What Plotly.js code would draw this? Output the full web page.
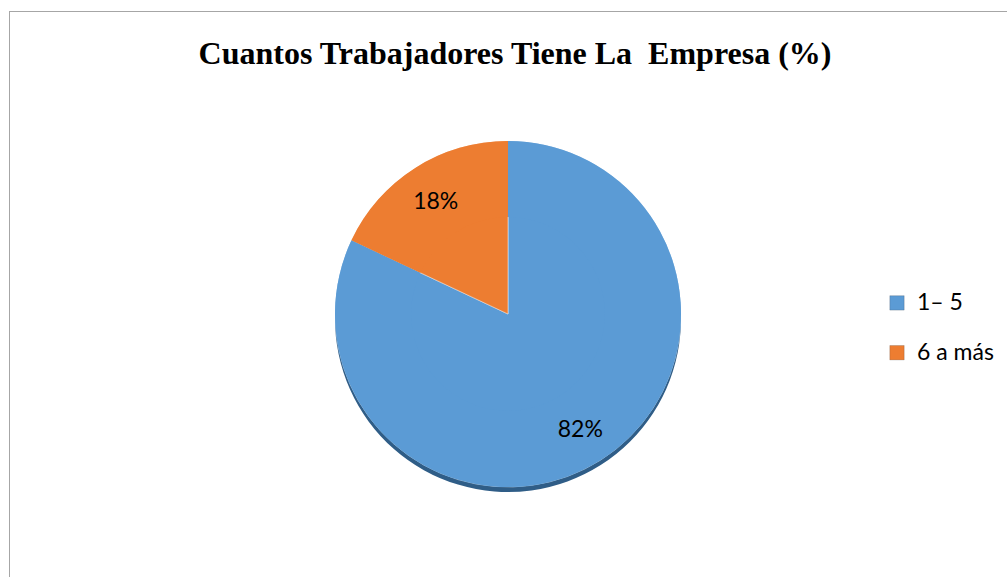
<!DOCTYPE html>
<html>
<head>
<meta charset="utf-8">
<script src="https://cdn.plot.ly/plotly-3.0.1.min.js"></script>
<style>
  html, body { margin: 0; padding: 0; background: #fff; overflow: hidden; }
  #wrap { position: relative; width: 1007px; height: 577px; }
  #frame { position: absolute; left: 9px; top: 11px; width: 1100px; height: 700px; border: 1px solid #a6a6a6; box-sizing: border-box; pointer-events: none; z-index: 2; }
  #chart { position: absolute; left: 0; top: 0; width: 1007px; height: 577px; }
  #chart .legend .legendtext { transform: translateY(-7px); }
  #chart .legend .legendpoints path { transform: translate(20px, 0px) scale(1.2); stroke: rgba(40,40,40,0.45) !important; stroke-width: 0.8px !important; }
</style>
</head>
<body>
<div id="wrap">
  <div id="chart"></div>
  <div id="frame"></div>
</div>
<script>
const chartTitle = "Cuantos Trabajadores Tiene La  Empresa (%)";
const categories = ["1– 5", "6 a más"];
const values = [82, 18];
const colors = ["#5B9BD5", "#ED7D31"];
const shadowColors = ["#2F5D87", "#9C4F1C"];

const W = 1007, H = 577;
const cx = 508, cy = 314, r = 173;
const dom = {
  x: [(cx - r) / W, (cx + r) / W],
  y: [(H - (cy + r)) / H, (H - (cy - r)) / H]
};
const shadowDom = {
  x: dom.x,
  y: [dom.y[0] - 5 / H, dom.y[1] - 5 / H]
};

const legendLabels = categories.map(c => '<span style="font-size:23px">' + c + '</span>');

const common = {
  type: 'pie',
  values: values,
  labels: legendLabels,
  sort: false,
  direction: 'clockwise',
  rotation: 0,
  hoverinfo: 'skip'
};

const shadow = Object.assign({}, common, {
  textinfo: 'none',
  showlegend: false,
  marker: { colors: shadowColors, line: { width: 0 } },
  domain: shadowDom
});

const base = Object.assign({}, common, {
  textinfo: 'none',
  showlegend: true,
  marker: { colors: colors, line: { color: 'rgba(255,255,255,0.45)', width: 1 } },
  domain: dom
});

const ring = Object.assign({}, common, {
  hole: 0.56,
  showlegend: false,
  textinfo: 'percent',
  texttemplate: '%{percent:.0%}',
  textposition: 'inside',
  insidetextorientation: 'horizontal',
  textfont: { family: 'Lato, "Open Sans", sans-serif', size: 23, color: '#000' },
  marker: { colors: colors, line: { width: 0 } },
  domain: dom
});

const layout = {
  width: W, height: H,
  margin: { l: 0, r: 0, t: 0, b: 0 },
  paper_bgcolor: '#fff',
  title: {
    text: '<b>' + chartTitle + '</b>',
    font: { family: '"Liberation Serif", "Times New Roman", serif', size: 32, color: '#000' },
    x: 515 / W, xanchor: 'center',
    y: 1 - 53 / H, yanchor: 'middle'
  },
  showlegend: true,
  legend: {
    x: 877 / W, xanchor: 'left',
    y: 1 - 328 / H, yanchor: 'middle',
    font: { family: 'Lato, "Open Sans", sans-serif', size: 36, color: '#000' },
    bgcolor: 'rgba(0,0,0,0)',
    itemclick: false
  }
};

Plotly.newPlot('chart', [shadow, base, ring], layout, { displayModeBar: false, staticPlot: true });
</script>
</body>
</html>
